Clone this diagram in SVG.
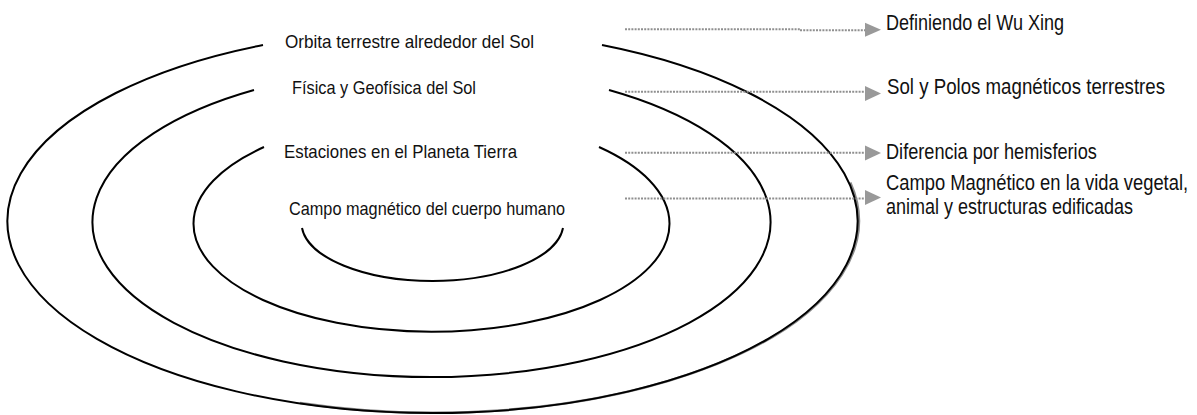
<svg xmlns="http://www.w3.org/2000/svg" width="1197" height="415" viewBox="0 0 1197 415">
  <defs>
    <style>
      .ring { fill: none; stroke: #000; stroke-width: 2; }
      .shadow { fill: none; stroke: #8a8a8a; stroke-width: 2.5; }
      .lbl { font-family: "Liberation Sans Narrow", "Liberation Sans", Arial, sans-serif; font-size: 19px; fill: #111; }
      .rlbl { font-family: "Liberation Sans Narrow", "Liberation Sans", Arial, sans-serif; font-size: 22px; fill: #111; }
      .dot { fill: none; stroke: #8f8f8f; stroke-width: 2; stroke-dasharray: 2 1.2; }
      .head { fill: #999; }
    </style>
    <filter id="soft" x="-5%" y="-5%" width="110%" height="110%">
      <feGaussianBlur stdDeviation="0.7"/>
    </filter>
  </defs>
  <rect width="1197" height="415" fill="#fff"/>

  <g id="ring-orbita">
    <path class="shadow" filter="url(#soft)" d="M 300 403 A 425 192 0 0 0 850.3 182.5"/>
    <path class="ring" d="M 263 45 A 425 192 0 1 0 602 45"/>
    <text class="lbl" x="285" y="48" textLength="249" lengthAdjust="spacingAndGlyphs">Orbita terrestre alrededor del Sol</text>
  </g>

  <g id="ring-fisica">
    <path class="ring" d="M 254 90 A 339 155 0 1 0 609 90"/>
    <text class="lbl" x="292" y="94" textLength="184" lengthAdjust="spacingAndGlyphs">Física y Geofísica del Sol</text>
  </g>

  <g id="ring-estaciones">
    <path class="ring" d="M 264 147 A 238 108 0 1 0 599 147"/>
    <text class="lbl" x="284" y="157.5" textLength="233" lengthAdjust="spacingAndGlyphs">Estaciones en el Planeta Tierra</text>
  </g>

  <g id="ring-campo">
    <path class="ring" d="M 302 228 A 131 58 0 0 0 563 228"/>
    <text class="lbl" x="289" y="215" textLength="276" lengthAdjust="spacingAndGlyphs">Campo magnético del cuerpo humano</text>
  </g>

  <g id="connectors">
    <path class="dot" d="M 625 29.3 H 800 M 800 30.3 H 866"/>
    <polygon class="head" points="865,22.7 881,29.8 865,36.8"/>
    <path class="dot" d="M 625 91.7 H 866"/>
    <polygon class="head" points="865,86 881,93.5 865,101"/>
    <path class="dot" d="M 625 152.7 H 866"/>
    <polygon class="head" points="865,145.5 881,153 865,160.5"/>
    <path class="dot" d="M 625 198.5 H 866"/>
    <polygon class="head" points="865,190 881,197.5 865,205"/>
  </g>

  <g id="label-wuxing">
    <text class="rlbl" transform="translate(886,30) scale(0.83,1)" textLength="214.5" lengthAdjust="spacingAndGlyphs">Definiendo el Wu Xing</text>
  </g>
  <g id="label-polos">
    <text class="rlbl" transform="translate(887,94) scale(0.83,1)" textLength="335" lengthAdjust="spacingAndGlyphs">Sol y Polos magnéticos terrestres</text>
  </g>
  <g id="label-hemisferios">
    <text class="rlbl" transform="translate(886,159) scale(0.83,1)" textLength="254" lengthAdjust="spacingAndGlyphs">Diferencia por hemisferios</text>
  </g>
  <g id="label-vida">
    <text class="rlbl" transform="translate(886,190) scale(0.83,1)" textLength="364" lengthAdjust="spacingAndGlyphs">Campo Magnético en la vida vegetal,</text>
    <text class="rlbl" transform="translate(886,214) scale(0.83,1)" textLength="297.5" lengthAdjust="spacingAndGlyphs">animal y estructuras edificadas</text>
  </g>
</svg>
